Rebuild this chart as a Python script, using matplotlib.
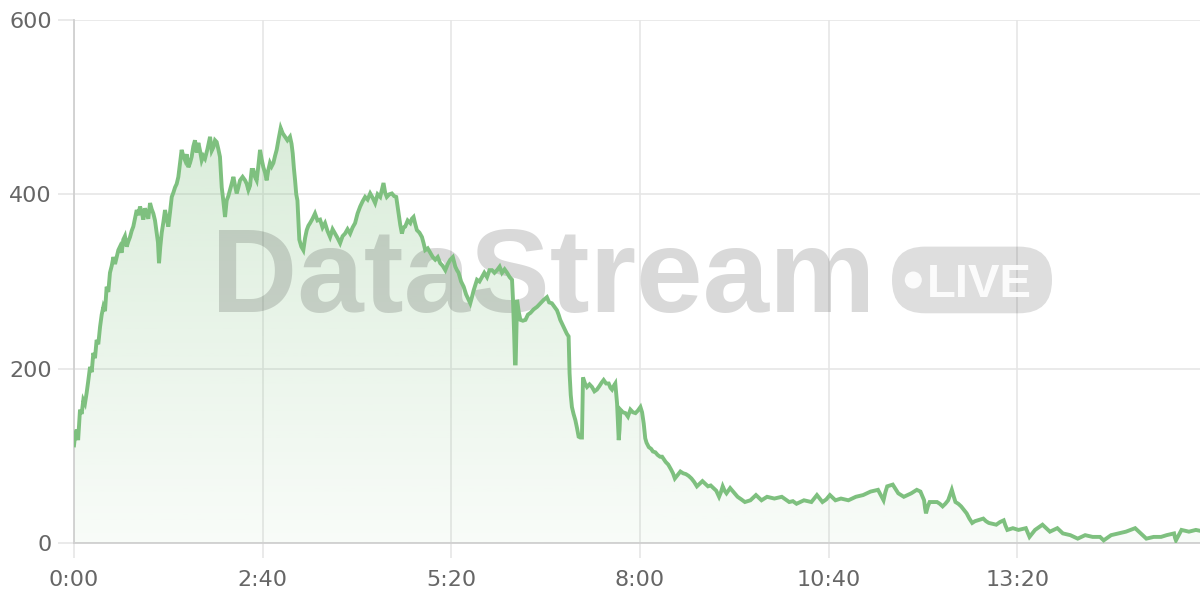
import matplotlib
matplotlib.use("Agg")
import matplotlib.pyplot as plt
import numpy as np
from matplotlib.colors import to_rgb
from matplotlib.patches import FancyBboxPatch, Circle
from matplotlib.transforms import IdentityTransform

# ---------------- DATA ----------------
seconds = [
    0, 1, 2.3, 3.5, 5.1, 6.5, 7.9, 9.3, 10.7, 12, 13.6, 15, 16.4, 17.8, 19.2, 20.6,
    22.1, 23.5, 24.9, 26.3, 27.7, 29.1, 30.5, 32, 33.4, 34.8, 36.2, 37.6, 39.0, 40.4,
    41.8, 43.2, 44.7, 46.1, 47.5, 48.9, 50.3, 51.7, 53.2, 54.6, 56.0, 57.4, 58.8, 60.2,
    61.6, 63, 64.5, 65.9, 67.3, 68.7, 70.1, 71.2, 72.1, 73.2, 74.4, 75.8, 77.2, 78.6,
    80.0, 81.5, 82.9, 84.3, 85.7, 87.1, 88.5, 89.9, 91.3, 92.7, 94.2, 95.6, 97.0, 98.4,
    99.8, 101.2, 102.6, 104, 105.5, 106.9, 108.3, 109.7, 111.1, 113.2, 115.4, 116.8,
    118.2, 119.6, 121.0, 122.4, 123.8, 125.3, 126.7, 128.1, 129.5, 130.9, 132.3, 133.7,
    135.2, 136.6, 138.0, 139.4, 140.8, 143, 145.1, 146.5, 147.9, 149.3, 150.7, 152.1,
    153.5, 154.9, 156.3, 157.8, 159.2, 160.6, 162, 163.4, 164.8, 166.2, 167.6, 169.1,
    170.5, 171.9, 173.6, 175.3, 177, 179.0, 181, 183.2, 184.5, 185.5, 186.5, 187.5,
    188.5, 189.5, 190.3, 191.1, 192.8, 194.5, 196, 197.4, 198.8, 200.2, 202.3, 204.4,
    206.5, 208.7, 210.8, 212.9, 215, 217.2, 219.3, 221.4, 223.5, 225.7, 227.8, 229.9,
    232, 234.2, 236.3, 238.4, 240.5, 242.7, 244.8, 246.9, 249, 251.2, 253.3, 255.4,
    257.5, 259.7, 261.1, 262.5, 263.9, 265.3, 267.4, 269.6, 271.5, 273.3, 275.3, 276.7,
    278.1, 279.5, 280.9, 283, 285.2, 286.6, 288.0, 289.4, 290.8, 293, 295.1, 296.5,
    297.9, 300, 302.2, 304.3, 306.4, 308.5, 310.6, 312.7, 314.9, 317, 319.1, 321.3,
    323.4, 324.8, 326.2, 328.3, 330.5, 332.6, 334.7, 336.1, 337.5, 339, 341.8, 343.9,
    346.0, 348, 350.3, 352.4, 354.5, 356.6, 358.8, 361, 363.0, 365.2, 367.3, 369.5,
    371.5, 372.3, 373.3, 374.0, 374.6, 375.3, 375.8, 377.2, 378.6, 380.7, 382.9, 385,
    387.1, 389.8, 392.8, 395.6, 398.4, 401.1, 403, 405.3, 407.4, 409.6, 411, 412.4,
    414.5, 416.6, 418, 419.5, 420.3, 421.3, 422.3, 423.7, 425.2, 426.6, 428, 429.4,
    430.8, 431.7, 433.4, 435.1, 437.2, 439.3, 441.4, 443.5, 445.6, 447.5, 449.2, 451.3,
    453.5, 455, 456.3, 457.7, 459.1, 460.6, 461.3, 462, 462.7, 463.4, 465.5, 467.7,
    469.8, 471.9, 474, 476.2, 478.3, 480.4, 481.8, 483.2, 484.5, 485.6, 487.5, 489.5,
    491, 493.1, 495, 497, 498.8, 501.8, 504, 506.5, 508, 509.6, 512, 514.3,
    516.6, 519, 521.3, 523.7, 526, 528.3, 530.6, 533, 535.3, 537.7, 540, 542.4,
    544.7, 547.1, 548.6, 550.2, 551.8, 553.4, 555, 556.5, 559.6, 562.8, 566, 569,
    571.4, 573.7, 576, 578.4, 580.7, 583.1, 585.5, 587.8, 591, 594, 597.2, 600.3,
    603.4, 606.6, 609.7, 612.8, 616, 619.1, 622.3, 625.4, 627.8, 630.1, 632.4, 634.8,
    638, 641.1, 643.4, 645.8, 648.2, 650.5, 653.7, 656.8, 660, 663.1, 666.2, 669.3,
    672.5, 675.6, 678.7, 681.9, 684.2, 686.6, 688.1, 689.7, 692, 694.4, 696.7, 699.1,
    701.4, 703.8, 707, 710.1, 712.4, 714.8, 716.4, 717.9, 719.5, 721, 721.8, 722.6,
    724.2, 725.7, 728.8, 732, 734.3, 736.7, 739, 741.4, 743, 744.5, 746, 747.6,
    750, 752.4, 754.7, 757.1, 759.4, 761.8, 764.1, 766.5, 768.8, 771.2, 773.5, 775.9,
    779, 782.2, 785.3, 788.5, 790, 791.6, 794, 796.3, 798.6, 801, 804.2, 807.3,
    808.9, 810.4, 812.8, 815.1, 818.2, 821.4, 824.5, 827.7, 830.8, 834, 836.4, 838.7,
    841.8, 845, 848.2, 851.3, 854.4, 857.6, 860.8, 863.9, 867, 870.2, 871.8, 873.3,
    876.4, 879.6, 882.8, 885.9, 889, 892.2, 896, 900, 902.4, 904.7, 907.1, 909.5,
    912.6, 915.7, 918.9, 922, 924.4, 926.7, 930, 933, 933.8, 934.6, 936.9, 939.3,
    942.5, 945.6, 948.5, 951.5, 955,
]
viewers = [
    112, 125, 130, 118, 153, 148, 164, 160, 172, 185, 202, 196, 218, 212, 233, 228,
    248, 262, 271, 266, 294, 288, 310, 318, 328, 320, 328, 336, 340, 333,
    348, 352, 340, 346, 351, 358, 363, 372, 382, 376, 386, 380, 371, 384,
    378, 372, 390, 383, 378, 370, 356, 345, 321, 340, 356, 368, 382, 372,
    363, 380, 397, 402, 408, 412, 420, 436, 451, 444, 439, 446, 431, 436,
    443, 455, 462, 448, 459, 450, 439, 444, 441, 452, 466, 450,
    454, 462, 460, 452, 443, 408, 392, 374, 393, 398, 405, 412,
    420, 410, 401, 408, 416, 420, 416, 412, 405, 410, 428, 428,
    420, 416, 432, 451, 440, 431, 425, 416, 428, 436, 432, 436,
    444, 451, 464, 476, 470, 466, 462, 466, 458, 447, 430, 416,
    400, 393, 370, 348, 340, 336, 350, 359, 364, 367, 372, 378,
    370, 371, 362, 367, 358, 351, 360, 355, 350, 344, 352, 355,
    360, 355, 362, 367, 378, 386, 392, 397, 394, 401, 396, 390,
    400, 397, 405, 413, 402, 397, 400, 401, 398, 397, 378, 365,
    355, 362, 363, 370, 367, 372, 374, 366, 359, 356, 351, 344,
    336, 338, 333, 328, 325, 328, 321, 318, 313, 320, 325, 328,
    317, 313, 310, 300, 294, 285, 279, 275, 282, 290, 302, 300,
    305, 310, 305, 313, 313, 310, 313, 317, 310, 314, 310, 305,
    302, 280, 240, 206, 206, 250, 279, 265, 256, 255, 256, 262,
    264, 268, 271, 275, 279, 282, 276, 275, 271, 267, 262, 256,
    250, 244, 240, 237, 195, 170, 156, 148, 141, 132, 122, 121,
    121, 190, 183, 179, 182, 179, 174, 176, 180, 184, 187, 183,
    183, 178, 176, 180, 183, 160, 140, 118, 130, 153, 150, 149,
    145, 153, 150, 149, 152, 156, 150, 137, 120, 115, 110, 108,
    105, 104, 101, 99, 99, 93, 90, 84, 80, 74, 78, 82,
    80, 79, 77, 74, 70, 65, 68, 71, 68, 65, 66, 63,
    60, 53, 58, 65, 60, 57, 60, 63, 58, 53, 50, 47,
    48, 49, 52, 55, 52, 49, 51, 53, 52, 51, 52, 53,
    50, 47, 48, 45, 47, 49, 48, 47, 51, 55, 51, 47,
    50, 55, 52, 49, 50, 51, 50, 49, 51, 53, 54, 55,
    57, 59, 60, 61, 55, 49, 58, 65, 66, 67, 62, 57,
    55, 53, 55, 57, 59, 61, 60, 59, 54, 49, 40, 34,
    42, 47, 47, 47, 45, 42, 45, 49, 55, 61, 54, 47,
    45, 42, 38, 34, 28, 23, 25, 26, 27, 28, 25, 23,
    22, 21, 24, 26, 20, 15, 16, 17, 16, 15, 16, 17,
    12, 7, 11, 15, 18, 21, 17, 13, 15, 17, 14, 11,
    10, 9, 7, 5, 7, 9, 8, 7, 7, 7, 5, 3,
    6, 9, 10, 11, 12, 13, 15, 17, 14, 11, 8, 5,
    6, 7, 7, 7, 8, 9, 10, 11, 6, 3, 9, 15,
    14, 13, 14, 15, 14,
]
y_ticks = [0, 200, 400, 600]
x_ticks = [0, 160, 320, 480, 640, 800]
x_tick_labels = ["0:00", "2:40", "5:20", "8:00", "10:40", "13:20"]

LINE_GREEN = "#7ec07f"
GRID = "#e6e6e6"

# ---------------- FIGURE ----------------
fig = plt.figure(figsize=(12, 6), dpi=100)
ax = fig.add_axes([74 / 1200, 57 / 600, 1126 / 1200, 523 / 600])
ax.set_xlim(0, 955)
ax.set_ylim(0, 600)

# gradient fill under the line
frac = np.linspace(0, 1, 256).reshape(-1, 1)
rgba = np.zeros((256, 1, 4))
rgba[..., :3] = to_rgb(LINE_GREEN)
rgba[..., 3] = 0.05 + 0.30 * frac
im = ax.imshow(rgba, extent=[0, 955, 0, 600], origin="lower", aspect="auto", zorder=1)
area = ax.fill_between(seconds, viewers, 0, color="none", linewidth=0)
im.set_clip_path(area.get_paths()[0], transform=ax.transData)

ax.plot(seconds, viewers, color=LINE_GREEN, linewidth=2.8, solid_joinstyle="miter", zorder=3)

# ---------------- WATERMARK ----------------
px = IdentityTransform()
ax.text(211, 288.3, "DataStream", transform=px, fontsize=86, family="Liberation Sans",
        weight="bold", color="black", alpha=0.15, ha="left", va="baseline", zorder=2)
badge = FancyBboxPatch((892, 286.7), 160, 66.7, boxstyle="round,pad=0,rounding_size=33",
                       transform=px, facecolor="black", alpha=0.13, edgecolor="none", zorder=2)
ax.add_patch(badge)
ax.add_patch(Circle((913.3, 320), 8.5, transform=px, facecolor="white", edgecolor="none",
                    alpha=0.9, zorder=2.1))
ax.text(927, 303.3, "LIVE", transform=px, fontsize=34, family="Liberation Sans",
        weight="bold", color="white", alpha=0.9, ha="left", va="baseline", zorder=2.1)

# ---------------- AXES STYLE ----------------
ax.set_xticks(x_ticks)
ax.set_xticklabels(x_tick_labels)
ax.set_yticks(y_ticks)
ax.set_axisbelow(True)
ax.grid(color=GRID, linewidth=1.2)
for side in ["top", "right"]:
    ax.spines[side].set_visible(False)
for side in ["left", "bottom"]:
    ax.spines[side].set_color("#d0d0d0")
    ax.spines[side].set_linewidth(1.3)
ax.tick_params(axis="both", color=GRID, width=1.2, labelcolor="#666666", labelsize=16)
ax.tick_params(axis="y", length=11.5, pad=4.3)
ax.tick_params(axis="x", length=10.8, pad=9.0)

fig.savefig("out.png", dpi=100)
